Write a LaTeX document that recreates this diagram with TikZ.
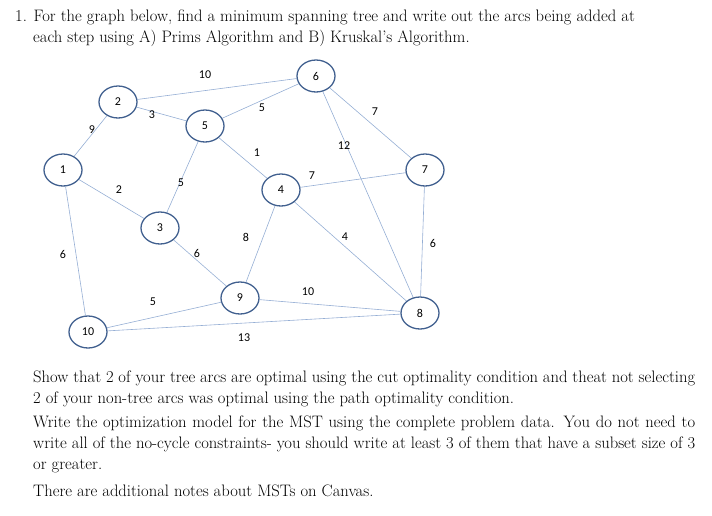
\documentclass[tikz,border=0pt]{standalone}
\usepackage{fontspec}
\newfontfamily\calfont{Carlito}
\usetikzlibrary{shapes.geometric,backgrounds}
\definecolor{nodeb}{HTML}{41608F}
\definecolor{edgeb}{HTML}{95AED4}
\begin{document}
\begin{tikzpicture}[x=1pt,y=-1pt,
 vert/.style={ellipse,draw=nodeb,line width=1.3pt,fill=white,minimum width=38pt,minimum height=32pt,inner sep=0pt,font=\calfont\fontsize{12}{13}\selectfont},
 edge/.style={draw=edgeb,line width=0.6pt},
 wlab/.style={font=\calfont\fontsize{12}{13}\selectfont,inner sep=0pt},
 para/.style={anchor=north west,align=justify,text width=662pt,inner sep=0pt,font=\fontsize{16.6}{21}\selectfont}]
\useasboundingbox (0,0) rectangle (712,515);
\node[vert] (n1) at (63,170) {1};
\node[vert] (n2) at (118,102) {2};
\node[vert] (n3) at (160,228) {3};
\node[vert] (n5) at (205,126) {5};
\node[vert] (n6) at (316,76) {6};
\node[vert] (n4) at (281,190) {4};
\node[vert] (n7) at (425,170) {7};
\node[vert] (n9) at (240,298) {9};
\node[vert] (n8) at (420,313) {8};
\node[vert] (n10) at (88,332) {10};
\begin{pgfonlayer}{background}
\foreach \a/\b in {n1/n2,n1/n3,n1/n10,n2/n5,n2/n6,n5/n6,n5/n4,n5/n3,n3/n9,n4/n7,n4/n9,n6/n7,n6/n8,n4/n8,n7/n8,n9/n10,n9/n8,n10/n8}
  \path[edge] (\a) -- (\b);
\end{pgfonlayer}
\node[wlab] (w1) at (205,75) {10};
\node[wlab] (w2) at (92,130) {9};
\node[wlab] (w3) at (152,115) {3};
\node[wlab] (w4) at (262,108) {5};
\node[wlab] (w5) at (375,112) {7};
\node[wlab] (w6) at (344,146) {12};
\node[wlab] (w7) at (257,153) {1};
\node[wlab] (w8) at (312,176) {7};
\node[wlab] (w9) at (119,190) {2};
\node[wlab] (w10) at (181,183) {5};
\node[wlab] (w11) at (246,237) {8};
\node[wlab] (w12) at (345,237) {4};
\node[wlab] (w13) at (433,243) {6};
\node[wlab] (w14) at (63,254) {6};
\node[wlab] (w15) at (197,253) {6};
\node[wlab] (w16) at (153,302) {5};
\node[wlab] (w17) at (308,292) {10};
\node[wlab] (w18) at (244,338) {13};
\node[para,text width=680pt] (t1) at (15,10) {1. For the graph below, find a minimum spanning tree and write out the arcs being added at\\\hspace*{18pt}each step using A) Prims Algorithm and B) Kruskal's Algorithm.};
\node[para] (t2) at (33,371) {Show that 2 of your tree arcs are optimal using the cut optimality condition and theat not selecting 2 of your non-tree arcs was optimal using the path optimality condition.};
\node[para] (t3) at (33,416) {Write the optimization model for the MST using the complete problem data. You do not need to write all of the no-cycle constraints- you should write at least 3 of them that have a subset size of 3 or greater.};
\node[para] (t4) at (33,485) {There are additional notes about MSTs on Canvas.};
\end{tikzpicture}
\end{document}
